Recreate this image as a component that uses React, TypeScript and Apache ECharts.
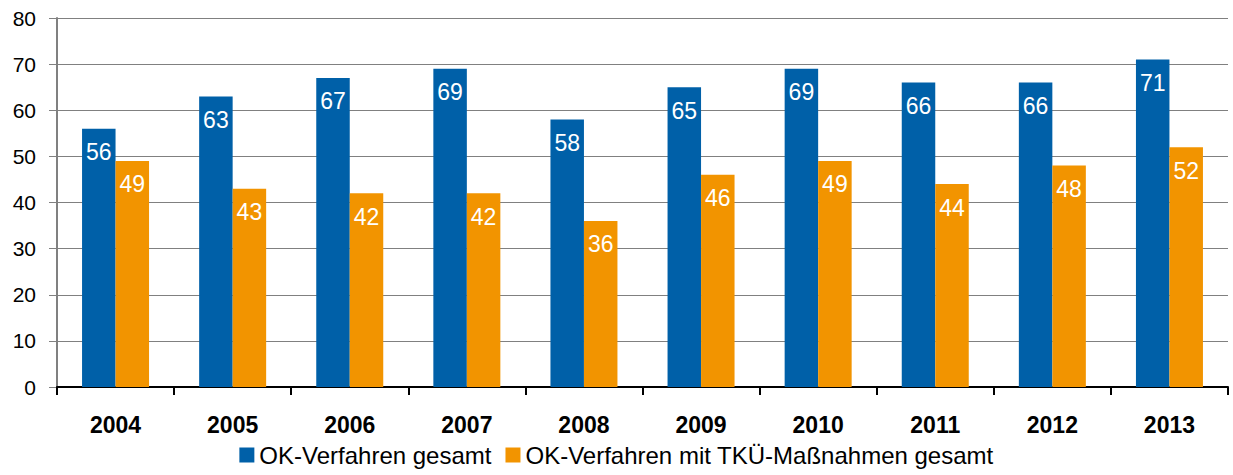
import React, { useEffect, useRef } from "react";
import * as echarts from "echarts";

const years = ["2004", "2005", "2006", "2007", "2008", "2009", "2010", "2011", "2012", "2013"];
const okTotal = [56, 63, 67, 69, 58, 65, 69, 66, 66, 71];
const okTku = [49, 43, 42, 42, 36, 46, 49, 44, 48, 52];
const seriesNames = ["OK-Verfahren gesamt", "OK-Verfahren mit TKÜ-Maßnahmen gesamt"];

export default function App() {
  const ref = useRef<HTMLDivElement>(null);
  useEffect(() => {
    if (!ref.current) return;
    const chart = echarts.init(ref.current, null, { renderer: "svg" });
    const font = "Liberation Sans, Arial, sans-serif";
    const label = {
      show: true,
      position: "insideTop" as const,
      distance: 12,
      color: "#ffffff",
      fontSize: 23,
      fontFamily: font,
    };
    chart.setOption({
      animation: false,
      textStyle: { fontFamily: font },
      grid: { left: 57, right: 5, top: 18, bottom: 88, containLabel: false },
      legend: {
        bottom: 3,
        left: "center",
        itemWidth: 15,
        itemHeight: 15,
        itemGap: 14,
        icon: "rect",
        textStyle: { fontSize: 24, color: "#000", fontFamily: font },
        data: seriesNames,
      },
      xAxis: {
        type: "category",
        data: years,
        axisLine: { lineStyle: { color: "#000", width: 2 } },
        axisTick: { show: true, length: 8, alignWithLabel: false, lineStyle: { color: "#000", width: 2 } },
        axisLabel: { fontSize: 23, fontWeight: "bold", color: "#000", margin: 26, fontFamily: font },
      },
      yAxis: {
        type: "value",
        min: 0,
        max: 80,
        interval: 10,
        axisLine: { show: true, lineStyle: { color: "#808080", width: 2 } },
        axisTick: { show: true, length: 8, lineStyle: { color: "#808080" } },
        axisLabel: { fontSize: 21, color: "#000", margin: 21, fontFamily: font },
        splitLine: { lineStyle: { color: "#808080", width: 1 } },
      },
      series: [
        {
          name: seriesNames[0],
          type: "bar",
          data: okTotal,
          barWidth: 33.5,
          barGap: "0%",
          itemStyle: { color: "#0060a8" },
          label,
        },
        {
          name: seriesNames[1],
          type: "bar",
          data: okTku,
          barWidth: 33.5,
          barGap: "0%",
          itemStyle: { color: "#f29400" },
          label,
        },
      ],
    });
    return () => chart.dispose();
  }, []);
  return (
    <div
      ref={ref}
      style={{ position: "fixed", left: 0, top: 0, width: 1233, height: 475, background: "#fff" }}
    />
  );
}
